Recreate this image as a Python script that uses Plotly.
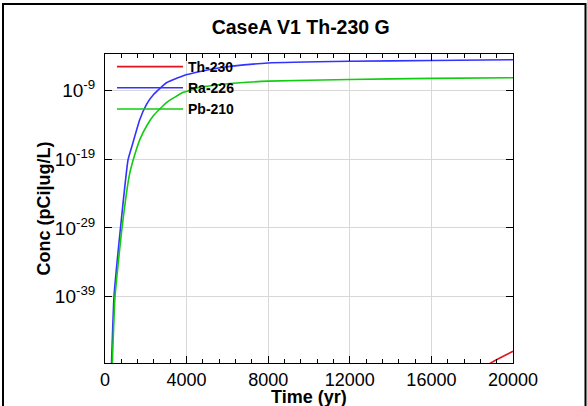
import plotly.graph_objects as go

# ---- data ----
ra_t = [319, 442, 760, 1128, 1349, 1693, 2036, 2379, 3027, 3841, 4661, 5642, 6133, 7997, 11971, 16043, 20000]
ra_log = [-48.8, -39.0, -29.0, -19.1, -16.8, -13.3, -11.0, -9.55, -7.8, -6.8, -6.2, -5.65, -5.45, -4.95, -4.7, -4.58, -4.47]

pb_t = [358, 491, 834, 1202, 1472, 1717, 2046, 2370, 3027, 3841, 4661, 5642, 6133, 7997, 11971, 16043, 20000]
pb_log = [-48.8, -39.0, -29.0, -21.2, -18.2, -16.05, -14.1, -12.65, -10.7, -9.23, -8.5, -8.1, -7.95, -7.6, -7.35, -7.2, -7.1]

th_t = [17500, 18200, 18850, 19400, 20000]
th_log = [-51.2, -50.0, -48.8, -47.9, -47.0]

series_names = ["Th-230", "Ra-226", "Pb-210"]
series_colors = ["#e0141e", "#3333ff", "#11cc11"]

y_tick_exps = [-9, -19, -29, -39]
x_tick_vals = [0, 4000, 8000, 12000, 16000, 20000]

FONT = "Liberation Sans, Arial, sans-serif"

# plot-area geometry in pixels
L, R, T, B = 105, 513, 54, 363
PW, PH = R - L, B - T

fig = go.Figure()
for name, t, lg, c in zip(series_names, [th_t, ra_t, pb_t], [th_log, ra_log, pb_log], series_colors):
    fig.add_trace(go.Scatter(x=t, y=[10 ** v for v in lg], mode="lines", name=name,
                             line=dict(color=c, width=1.6, shape="spline", smoothing=0.4)))

fig.update_layout(
    width=587, height=406,
    margin=dict(l=L, r=587 - R, t=T, b=406 - B, autoexpand=False),
    paper_bgcolor="white", plot_bgcolor="white",
    font=dict(family=FONT, color="black"),
    title=dict(text="<b>CaseA V1 Th-230 G</b>", x=300.7 / 587, xanchor="center", xref="container",
               y=1 - 27.3 / 406, yanchor="middle", yref="container", font=dict(size=19.5, family=FONT)),
    showlegend=True,
    legend=dict(x=7 / PW, y=1 + 3 / PH, xanchor="left", yanchor="top", bgcolor="rgba(0,0,0,0)",
                borderwidth=0, font=dict(size=14, family=FONT, weight="bold"),
                itemwidth=66, tracegroupgap=0),
)

fig.update_xaxes(
    range=[0, 20000], tickvals=x_tick_vals, ticktext=[str(v) for v in x_tick_vals],
    automargin=False,
    showgrid=True, gridcolor="#d8d8d8", gridwidth=1, zeroline=False,
    showline=True, linecolor="black", linewidth=1, mirror="ticks",
    ticks="inside", ticklen=7, tickcolor="black",
    minor=dict(dtick=800, tick0=0, ticks="inside", ticklen=4, tickcolor="black", showgrid=False),
    tickfont=dict(size=18, family=FONT),
)

fig.update_yaxes(
    type="log", range=[-48.7, -3.64],
    automargin=False,
    tickvals=[10.0 ** e for e in y_tick_exps],
    ticktext=["10<sup>%d</sup>" % e for e in y_tick_exps],
    showgrid=True, gridcolor="#d8d8d8", gridwidth=1, zeroline=False,
    showline=True, linecolor="black", linewidth=1, mirror="ticks",
    ticks="inside", ticklen=7, tickcolor="black",
    tickfont=dict(size=19, family=FONT), ticklabelstandoff=5,
)

# axis titles
fig.add_annotation(text="<b>Time (yr)</b>", xref="paper", yref="paper",
                   x=(309 - L) / PW, y=(B - 396.5) / PH, xanchor="center", yanchor="middle",
                   showarrow=False, font=dict(size=18, family=FONT))
fig.add_annotation(text="<b>Conc (pCi|ug/L)</b>", xref="paper", yref="paper",
                   x=(43 - L) / PW, y=(B - 208.5) / PH, xanchor="center", yanchor="middle",
                   textangle=-90, showarrow=False, font=dict(size=18, family=FONT))

# figure frame
fig.add_shape(type="rect", xref="paper", yref="paper",
              x0=(3 - L) / PW, x1=(585.5 - L) / PW,
              y0=(B - 420) / PH, y1=(B - 4) / PH,
              line=dict(color="black", width=2), fillcolor="rgba(0,0,0,0)", layer="below")

fig.write_html("out.html", config={"displayModeBar": False},
               post_script="document.body.style.margin='0';document.body.style.overflow='hidden';")
